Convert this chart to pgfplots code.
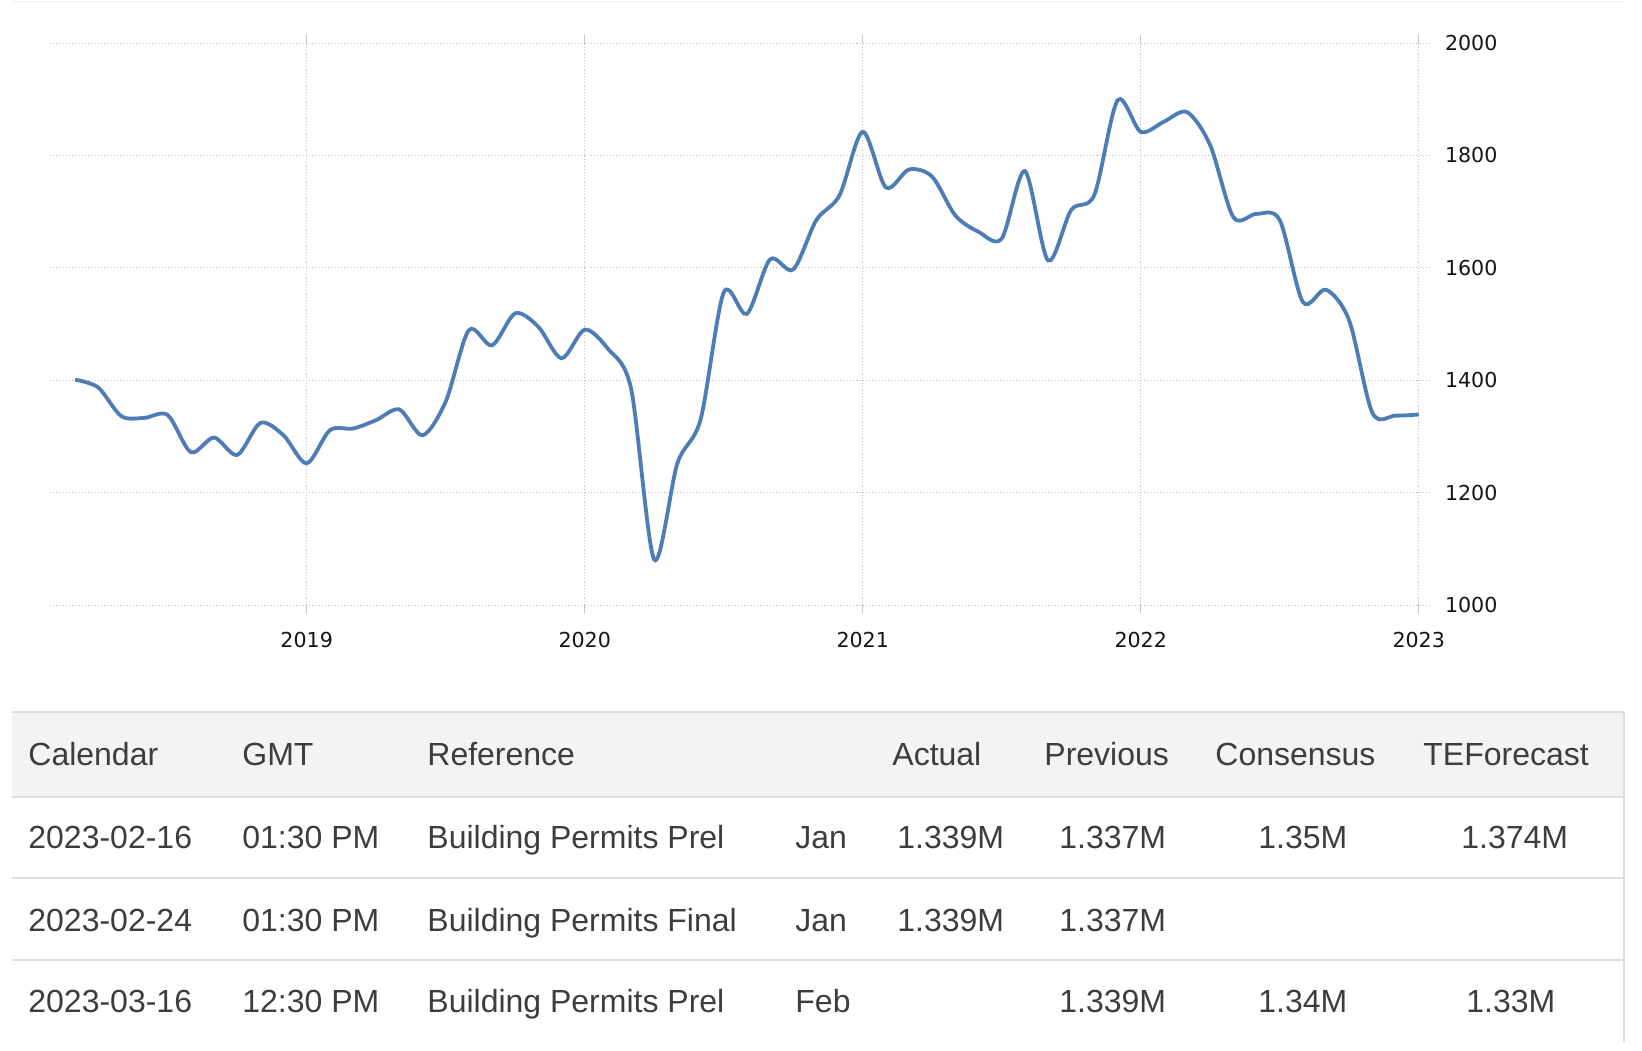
\documentclass[border=0pt]{standalone}
\usepackage{pgfplots}
\pgfplotsset{compat=1.18}
\usepackage{fontspec}
\setmainfont{Liberation Sans}
\newfontfamily\tickfont{DejaVu Sans}
\definecolor{lineblue}{HTML}{4E7DB5}
\definecolor{gridgray}{HTML}{C4C4C4}
\definecolor{txt}{HTML}{3D3D3D}
\definecolor{hdrbg}{HTML}{F3F3F3}
\definecolor{sepc}{HTML}{DEDEDE}
\begin{document}
\begin{tikzpicture}
\path[use as bounding box] (0,0) rectangle (821pt,-525pt);
\begin{axis}[
  at={(25pt,-21.5pt)}, anchor=north west,
  scale only axis, width=690pt, height=281pt,
  xmin=2018.0766, xmax=2023.0406, ymin=1000, ymax=2000,
  axis line style={draw=none},
  xtick={2019,2020,2021,2022,2023},
  xticklabels={2019,2020,2021,2022,2023},
  ytick={1000,1200,1400,1600,1800,2000},
  yticklabels={1000,1200,1400,1600,1800,2000},
  grid=major,
  grid style={gridgray, line width=0.5pt, dash pattern=on 0.6pt off 1pt},
  tick align=outside,
  major tick length=4pt,
  xtick style={gridgray, line width=0.6pt},
  ytick style={draw=none},
  yticklabel pos=right,
  ticklabel style={font=\tickfont\fontsize{10.3}{12}\selectfont, text=black!92},
  xticklabel style={anchor=north, inner sep=0pt, yshift=-9.2pt},
  yticklabel style={anchor=west, inner sep=0pt, xshift=3.3pt},
]
\addplot[lineblue, line width=1.9pt, smooth, tension=0.5] coordinates {
(2018.1667,1401) (2018.25,1387) (2018.3333,1336) (2018.4167,1333) (2018.5,1338)
(2018.5833,1272) (2018.6667,1298) (2018.75,1267) (2018.8333,1324) (2018.9167,1302)
(2019,1252) (2019.0833,1311) (2019.1667,1314) (2019.25,1329) (2019.3333,1348)
(2019.4167,1302) (2019.5,1362) (2019.5833,1489) (2019.6667,1462) (2019.75,1519)
(2019.8333,1495) (2019.9167,1439) (2020,1490) (2020.0833,1456) (2020.1667,1385)
(2020.25,1081) (2020.3333,1252) (2020.4167,1330) (2020.5,1556) (2020.5833,1518)
(2020.6667,1615) (2020.75,1597) (2020.8333,1685) (2020.9167,1729) (2021,1842)
(2021.0833,1743) (2021.1667,1775) (2021.25,1762) (2021.3333,1693) (2021.4167,1664)
(2021.5,1652) (2021.5833,1772) (2021.6667,1613) (2021.75,1703) (2021.8333,1730)
(2021.9167,1898) (2022,1842) (2022.0833,1860) (2022.1667,1877) (2022.25,1818)
(2022.3333,1690) (2022.4167,1696) (2022.5,1685) (2022.5833,1539) (2022.6667,1561)
(2022.75,1506) (2022.8333,1342) (2022.9167,1337) (2023,1339)
};
\end{axis}
\begin{scope}[x=0.5pt,y=-0.5pt]
\draw[sepc!50, line width=0.5pt] (12,1) -- (1624,1);
\fill[hdrbg] (12,712) rectangle (1624,797);
\foreach \yy in {712,797,878,960} {\draw[sepc, line width=1pt] (12,\yy) -- (1624,\yy);}
\draw[sepc, line width=1pt] (1624,712) -- (1624,1043);
\tikzset{cell/.style={anchor=base west, inner sep=0pt, text=txt, font=\fontsize{16}{19}\selectfont}}
% header
\node[cell] at (28,765) {Calendar};
\node[cell] at (242,765) {GMT};
\node[cell] at (427,765) {Reference};
\node[cell] at (892,765) {Actual};
\node[cell] at (1044,765) {Previous};
\node[cell] at (1215,765) {Consensus};
\node[cell] at (1423,765) {TEForecast};
% row 1
\node[cell] at (28,848) {2023-02-16};
\node[cell] at (242,848) {01:30 PM};
\node[cell] at (427,848) {Building Permits Prel};
\node[cell] at (795,848) {Jan};
\node[cell] at (897,848) {1.339M};
\node[cell] at (1059,848) {1.337M};
\node[cell] at (1258,848) {1.35M};
\node[cell] at (1461,848) {1.374M};
% row 2
\node[cell] at (28,931) {2023-02-24};
\node[cell] at (242,931) {01:30 PM};
\node[cell] at (427,931) {Building Permits Final};
\node[cell] at (795,931) {Jan};
\node[cell] at (897,931) {1.339M};
\node[cell] at (1059,931) {1.337M};
% row 3
\node[cell] at (28,1012.5) {2023-03-16};
\node[cell] at (242,1012.5) {12:30 PM};
\node[cell] at (427,1012.5) {Building Permits Prel};
\node[cell] at (795,1012.5) {Feb};
\node[cell] at (1059,1012.5) {1.339M};
\node[cell] at (1258,1012.5) {1.34M};
\node[cell] at (1466,1012.5) {1.33M};
\end{scope}
\end{tikzpicture}
\end{document}
